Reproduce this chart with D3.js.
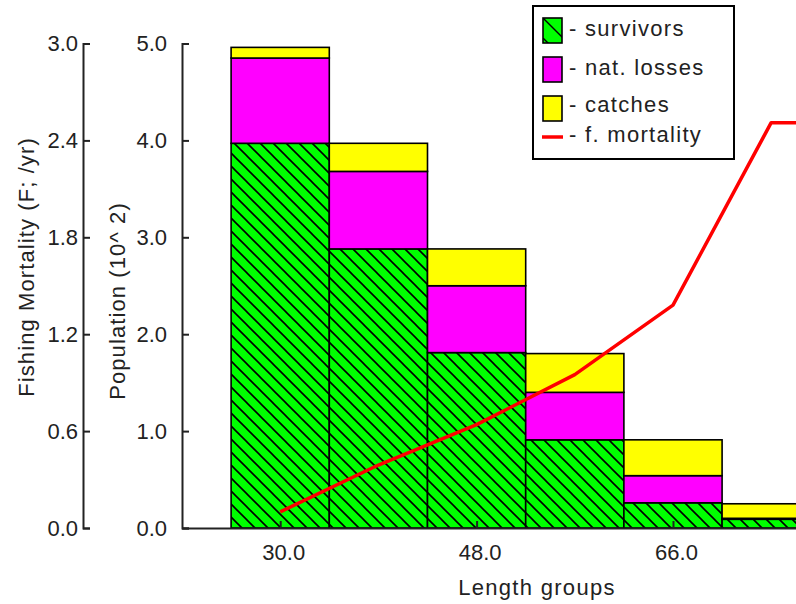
<!DOCTYPE html>
<html>
<head>
<meta charset="utf-8">
<script src="https://cdn.jsdelivr.net/npm/d3@7"></script>
<style>
  html, body { margin: 0; padding: 0; background: #fff; }
  svg { display: block; }
  text { font-family: "Liberation Sans", Arial, sans-serif; fill: #222; }
</style>
</head>
<body>
<svg id="chart" width="796" height="604"></svg>
<script>
// ---- data ----
const lengthGroups = [30, 39, 48, 57, 66, 75];
const survivors   = [3.97, 2.88, 1.81, 0.91, 0.26, 0.09];
const natLosses   = [0.88, 0.80, 0.69, 0.49, 0.28, 0.01];
const catches     = [0.11, 0.29, 0.38, 0.40, 0.37, 0.15];
const fGroups     = [30, 39, 48, 57, 66, 75, 84];
const fMortality  = [0.10, 0.39, 0.64, 0.95, 1.38, 2.51, 2.51];
const fTicks      = [0, 0.6, 1.2, 1.8, 2.4, 3.0];
const popTicks    = [0, 1, 2, 3, 4, 5];
const xTicks      = [30, 48, 66];
const binWidth    = 9;
const seriesKeys  = ["survivors", "natLosses", "catches"];
const legendLabels = ["- survivors", "- nat. losses", "- catches", "- f. mortality"];

// ---- layout ----
const svg = d3.select("#chart");
const yBottom = 528, yTop = 43.5;
const x = d3.scaleLinear().domain([21, 84]).range([182, 182 + 63 * 10.911]);
const yPop = d3.scaleLinear().domain([0, 5]).range([yBottom, yTop]);
const yF = d3.scaleLinear().domain([0, 3]).range([yBottom, yTop]);
const colors = { survivors: "url(#hatch)", natLosses: "#ff00ff", catches: "#ffff00" };

const defs = svg.append("defs");
const hs = 13;
const pat = defs.append("pattern").attr("id", "hatch")
  .attr("patternUnits", "userSpaceOnUse").attr("width", hs).attr("height", hs)
  .attr("x", 0).attr("y", 0);
pat.append("rect").attr("width", hs).attr("height", hs).attr("fill", "#00ff00");
pat.append("path")
  .attr("d", `M-2,-2L${hs + 2},${hs + 2}M-2,${hs - 2}L2,${hs + 2}M${hs - 2},-2L${hs + 2},2`)
  .attr("stroke", "#000").attr("stroke-width", 1.6).attr("fill", "none");

const rows = lengthGroups.map((g, i) => ({ group: g, survivors: survivors[i], natLosses: natLosses[i], catches: catches[i] }));
const stacked = d3.stack().keys(seriesKeys)(rows);

const barG = svg.append("g");
stacked.forEach(layer => {
  barG.selectAll(null).data(layer).join("rect")
    .attr("x", d => x(d.data.group - binWidth / 2))
    .attr("width", d => x(d.data.group + binWidth / 2) - x(d.data.group - binWidth / 2))
    .attr("y", d => yPop(d[1]))
    .attr("height", d => yPop(d[0]) - yPop(d[1]))
    .attr("fill", colors[layer.key])
    .attr("stroke", "#000").attr("stroke-width", 1.6);
});

// F mortality line
svg.append("path")
  .datum(fGroups.map((g, i) => [g, fMortality[i]]))
  .attr("d", d3.line().x(d => x(d[0])).y(d => yF(d[1])))
  .attr("fill", "none").attr("stroke", "#ff0000").attr("stroke-width", 3.5)
  .attr("stroke-linejoin", "round");

// axes
const fs = 22;
function styleAxis(g) {
  g.selectAll("path.domain").attr("stroke", "#222").attr("stroke-width", 2);
  g.selectAll(".tick line").attr("stroke", "#222").attr("stroke-width", 2);
  g.selectAll(".tick text").attr("font-size", fs).attr("font-family", "Liberation Sans, Arial, sans-serif").attr("fill", "#222");
}
svg.append("g").attr("transform", "translate(83,0)")
  .call(d3.axisLeft(yF).tickValues(fTicks).tickFormat(d3.format(".1f")).tickSize(-7).tickPadding(5))
  .call(styleAxis);
svg.append("g").attr("transform", "translate(182,0)")
  .call(d3.axisLeft(yPop).tickValues(popTicks).tickFormat(d3.format(".1f")).tickSize(-7).tickPadding(15))
  .call(styleAxis);
const xAxisG = svg.append("g").attr("transform", `translate(0,${yBottom})`)
  .call(d3.axisBottom(x).tickValues(xTicks).tickFormat(d3.format(".1f")).tickSizeInner(-7).tickSizeOuter(0).tickPadding(16))
  .call(styleAxis);
xAxisG.selectAll(".tick text").attr("dx", 3);

// axis titles
svg.append("text").attr("transform", "translate(34,267) rotate(-90)")
  .attr("text-anchor", "middle").attr("font-size", fs).attr("letter-spacing", 1.1)
  .text("Fishing Mortality (F; /yr)");
svg.append("text").attr("transform", "translate(125,301) rotate(-90)")
  .attr("text-anchor", "middle").attr("font-size", fs).attr("letter-spacing", 1.1)
  .text("Population (10^ 2)");
svg.append("text").attr("x", 537).attr("y", 595)
  .attr("text-anchor", "middle").attr("font-size", fs).attr("letter-spacing", 1.3)
  .text("Length groups");

// legend
const lg = svg.append("g");
lg.append("rect").attr("x", 533).attr("y", 6).attr("width", 201).attr("height", 153)
  .attr("fill", "#fff").attr("stroke", "#000").attr("stroke-width", 2);
const swatchY = [18, 57, 96];
const swatchFill = ["url(#hatch2)", "#ff00ff", "#ffff00"];
const pat2 = defs.append("pattern").attr("id", "hatch2")
  .attr("patternUnits", "userSpaceOnUse").attr("width", 20).attr("height", 20)
  .attr("x", 543).attr("y", 18);
pat2.append("rect").attr("width", 20).attr("height", 20).attr("fill", "#00ff00");
pat2.append("path").attr("d", "M0,0L20,20").attr("stroke", "#000").attr("stroke-width", 1.4);
swatchY.forEach((yy, i) => {
  lg.append("rect").attr("x", 543).attr("y", yy).attr("width", 19).attr("height", 25)
    .attr("fill", swatchFill[i]).attr("stroke", "#000").attr("stroke-width", 1.6);
});
lg.append("line").attr("x1", 542).attr("x2", 563).attr("y1", 137).attr("y2", 137)
  .attr("stroke", "#ff0000").attr("stroke-width", 3.5);
const textBase = [36, 75, 112, 142];
legendLabels.forEach((t, i) => {
  lg.append("text").attr("x", 569).attr("y", textBase[i]).attr("font-size", fs)
    .attr("letter-spacing", 1.3).text(t);
});
</script>
</body>
</html>
